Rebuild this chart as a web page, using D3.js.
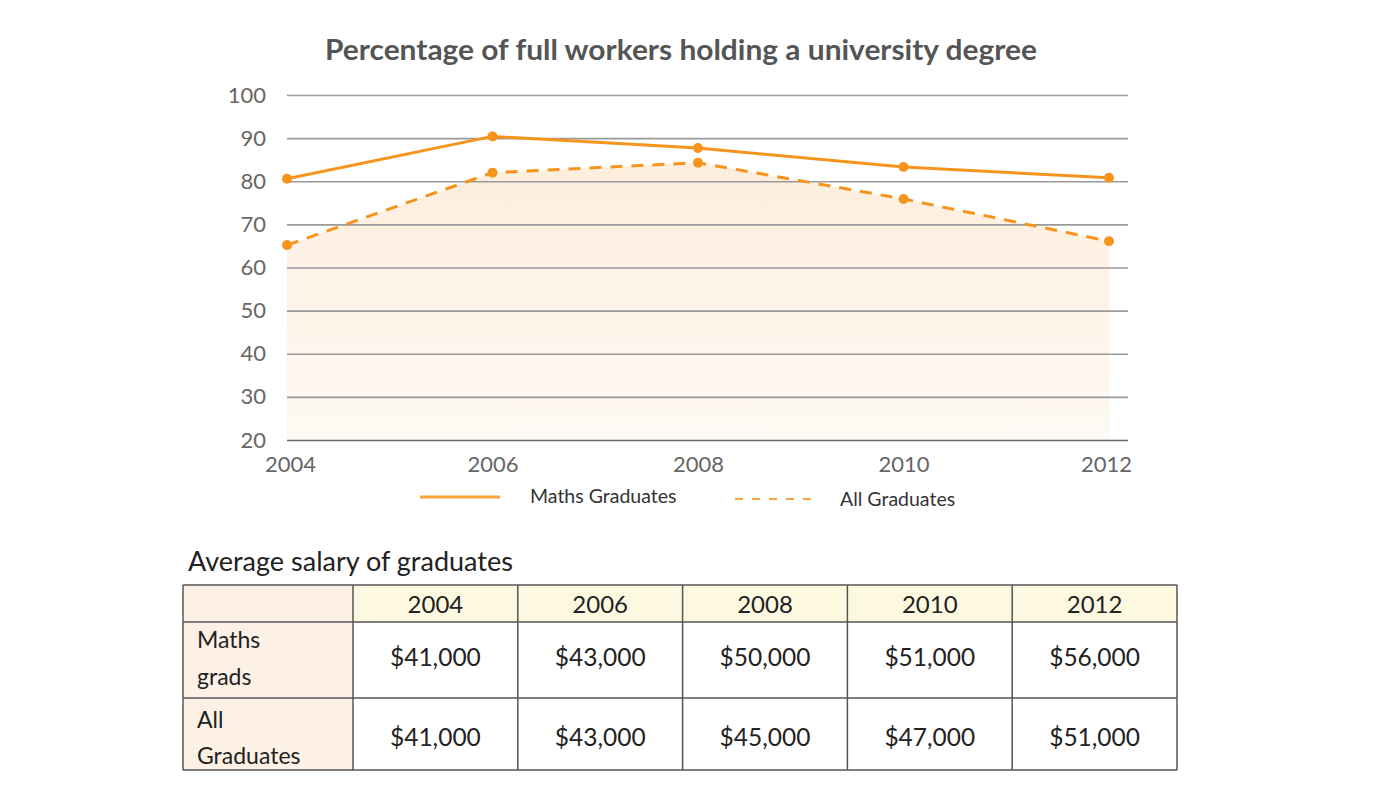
<!DOCTYPE html>
<html><head><meta charset="utf-8">
<script src="https://cdn.jsdelivr.net/npm/d3@7"></script>
<style>
html,body{margin:0;padding:0;background:#fff;}
svg{display:block;font-family:Lato, "Open Sans", sans-serif;}
</style></head>
<body>
<svg id="chart" width="1400" height="800"></svg>
<script>
// ---- data ----
const years = [2004, 2006, 2008, 2010, 2012];
const mathsPct = [80.6, 90.4, 87.7, 83.3, 80.8];
const allPct = [65.2, 82.0, 84.3, 75.9, 66.1];
const yTicks = [20, 30, 40, 50, 60, 70, 80, 90, 100];
const seriesNames = ["Maths Graduates", "All Graduates"];
const tableTitle = "Average salary of graduates";
const rowLabels = [["Maths", "grads"], ["All", "Graduates"]];
const mathsSalary = ["$41,000", "$43,000", "$50,000", "$51,000", "$56,000"];
const allSalary = ["$41,000", "$43,000", "$45,000", "$47,000", "$51,000"];
const title = "Percentage of full workers holding a university degree";

const svg = d3.select("#chart");
const orange = "#f7941d";

const x = d3.scaleLinear().domain([2004, 2012]).range([287, 1109]);
const y = d3.scaleLinear().domain([20, 100]).range([440, 95]);

// defs gradient for area
const defs = svg.append("defs");
const grad = defs.append("linearGradient").attr("id", "areaGrad").attr("x1", 0).attr("y1", 0).attr("x2", 0).attr("y2", 1);
grad.append("stop").attr("offset", "0%").attr("stop-color", "#fdeedd");
grad.append("stop").attr("offset", "100%").attr("stop-color", "#fef9f4");

// title
svg.append("text").attr("x", 681).attr("y", 60).attr("text-anchor", "middle")
  .attr("font-size", 29).attr("font-weight", 700).attr("fill", "#555")
  .attr("textLength", 712).attr("lengthAdjust", "spacingAndGlyphs")
  .text(title);

const allData = years.map((yr, i) => ({ yr, v: allPct[i] }));
const mathsData = years.map((yr, i) => ({ yr, v: mathsPct[i] }));

// area under All graduates
svg.append("path").datum(allData)
  .attr("d", d3.area().x(d => x(d.yr)).y0(y(20)).y1(d => y(d.v)))
  .attr("fill", "url(#areaGrad)");

// grid
const yAxis = d3.axisLeft(y).tickValues(yTicks).tickSize(-(1128 - 287)).tickPadding(20);
const gy = svg.append("g").attr("transform", "translate(287,0)").call(yAxis);
gy.select(".domain").remove();
gy.selectAll(".tick line").attr("stroke", "#9a9a9a").attr("stroke-width", 1.6);
gy.selectAll(".tick").filter(d => d === 20).select("line").attr("stroke", "#666");
gy.selectAll(".tick text").attr("font-size", 22).attr("fill", "#666").attr("font-family", "Lato, sans-serif").attr("x", -21);

// x axis labels
const xAxis = d3.axisBottom(x).tickValues(years).tickFormat(d3.format("d")).tickSize(0).tickPadding(16);
const gx = svg.append("g").attr("transform", "translate(0,440)").call(xAxis);
gx.select(".domain").remove();
gx.selectAll(".tick text").attr("font-size", 22).attr("fill", "#666").attr("font-family", "Lato, sans-serif");
gx.selectAll(".tick").filter(d => d === 2004).select("text").attr("dx", 3);
gx.selectAll(".tick").filter(d => d === 2012).select("text").attr("dx", -3);

const line = d3.line().x(d => x(d.yr)).y(d => y(d.v));

svg.append("path").datum(allData).attr("d", line)
  .attr("fill", "none").attr("stroke", orange).attr("stroke-width", 3).attr("stroke-dasharray", "12,9");
svg.append("path").datum(mathsData).attr("d", line)
  .attr("fill", "none").attr("stroke", orange).attr("stroke-width", 3);

[allData, mathsData].forEach(data => {
  svg.append("g").selectAll("circle").data(data).join("circle")
    .attr("cx", d => x(d.yr)).attr("cy", d => y(d.v)).attr("r", 5).attr("fill", orange);
});

// legend
const lg = svg.append("g");
lg.append("line").attr("x1", 420).attr("x2", 500).attr("y1", 497).attr("y2", 497)
  .attr("stroke", "#f9a53a").attr("stroke-width", 3);
lg.append("text").attr("x", 530).attr("y", 503).attr("font-size", 19.5).attr("fill", "#333").text(seriesNames[0]);
lg.append("line").attr("x1", 735).attr("x2", 815).attr("y1", 499).attr("y2", 499)
  .attr("stroke", "#f9a53a").attr("stroke-width", 2).attr("stroke-dasharray", "8,9");
lg.append("text").attr("x", 840).attr("y", 506).attr("font-size", 19.5).attr("fill", "#333").text(seriesNames[1]);

// table
svg.append("text").attr("x", 188).attr("y", 571).attr("font-size", 27).attr("fill", "#222").text(tableTitle);

const tLeft = 183, tRight = 1177, firstColRight = 353;
const colX = d3.scaleBand().domain(years).range([firstColRight, tRight]);
const rowYs = [585, 622, 698, 770];
const valueBaselines = [666, 746];
const labelBaselines = [[648, 685], [728, 764]];

const tg = svg.append("g");
// header fills
tg.append("rect").attr("x", tLeft).attr("y", rowYs[0]).attr("width", firstColRight - tLeft).attr("height", rowYs[3] - rowYs[0]).attr("fill", "#fdf1e5");
tg.selectAll("rect.hdr").data(years).join("rect").attr("class", "hdr")
  .attr("x", d => colX(d)).attr("y", rowYs[0]).attr("width", colX.bandwidth()).attr("height", rowYs[1] - rowYs[0])
  .attr("fill", "#fdf9e1");

// header text
tg.selectAll("text.hdr").data(years).join("text").attr("class", "hdr")
  .attr("x", d => colX(d) + colX.bandwidth() / 2).attr("y", 613).attr("text-anchor", "middle")
  .attr("font-size", 24).attr("fill", "#222").text(d => d);

const rowsVals = [mathsSalary, allSalary];
rowsVals.forEach((vals, r) => {
  tg.selectAll("text.v" + r).data(vals).join("text").attr("class", "v" + r)
    .attr("x", (d, i) => colX(years[i]) + colX.bandwidth() / 2).attr("y", valueBaselines[r])
    .attr("text-anchor", "middle").attr("font-size", 24.5).attr("fill", "#222").text(d => d);
  rowLabels[r].forEach((t, k) => {
    tg.append("text").attr("x", 197).attr("y", labelBaselines[r][k])
      .attr("font-size", 23).attr("fill", "#222").text(t);
  });
});

// borders
const bc = "#555";
rowYs.forEach(yy => tg.append("line").attr("x1", tLeft).attr("x2", tRight).attr("y1", yy).attr("y2", yy).attr("stroke", bc).attr("stroke-width", 1.5));
const vxs = [tLeft, firstColRight].concat(years.slice(1).map(d => colX(d))).concat([tRight]);
vxs.forEach(xx => tg.append("line").attr("x1", xx).attr("x2", xx).attr("y1", rowYs[0]).attr("y2", rowYs[3]).attr("stroke", bc).attr("stroke-width", 1.5));
</script>
</body></html>
